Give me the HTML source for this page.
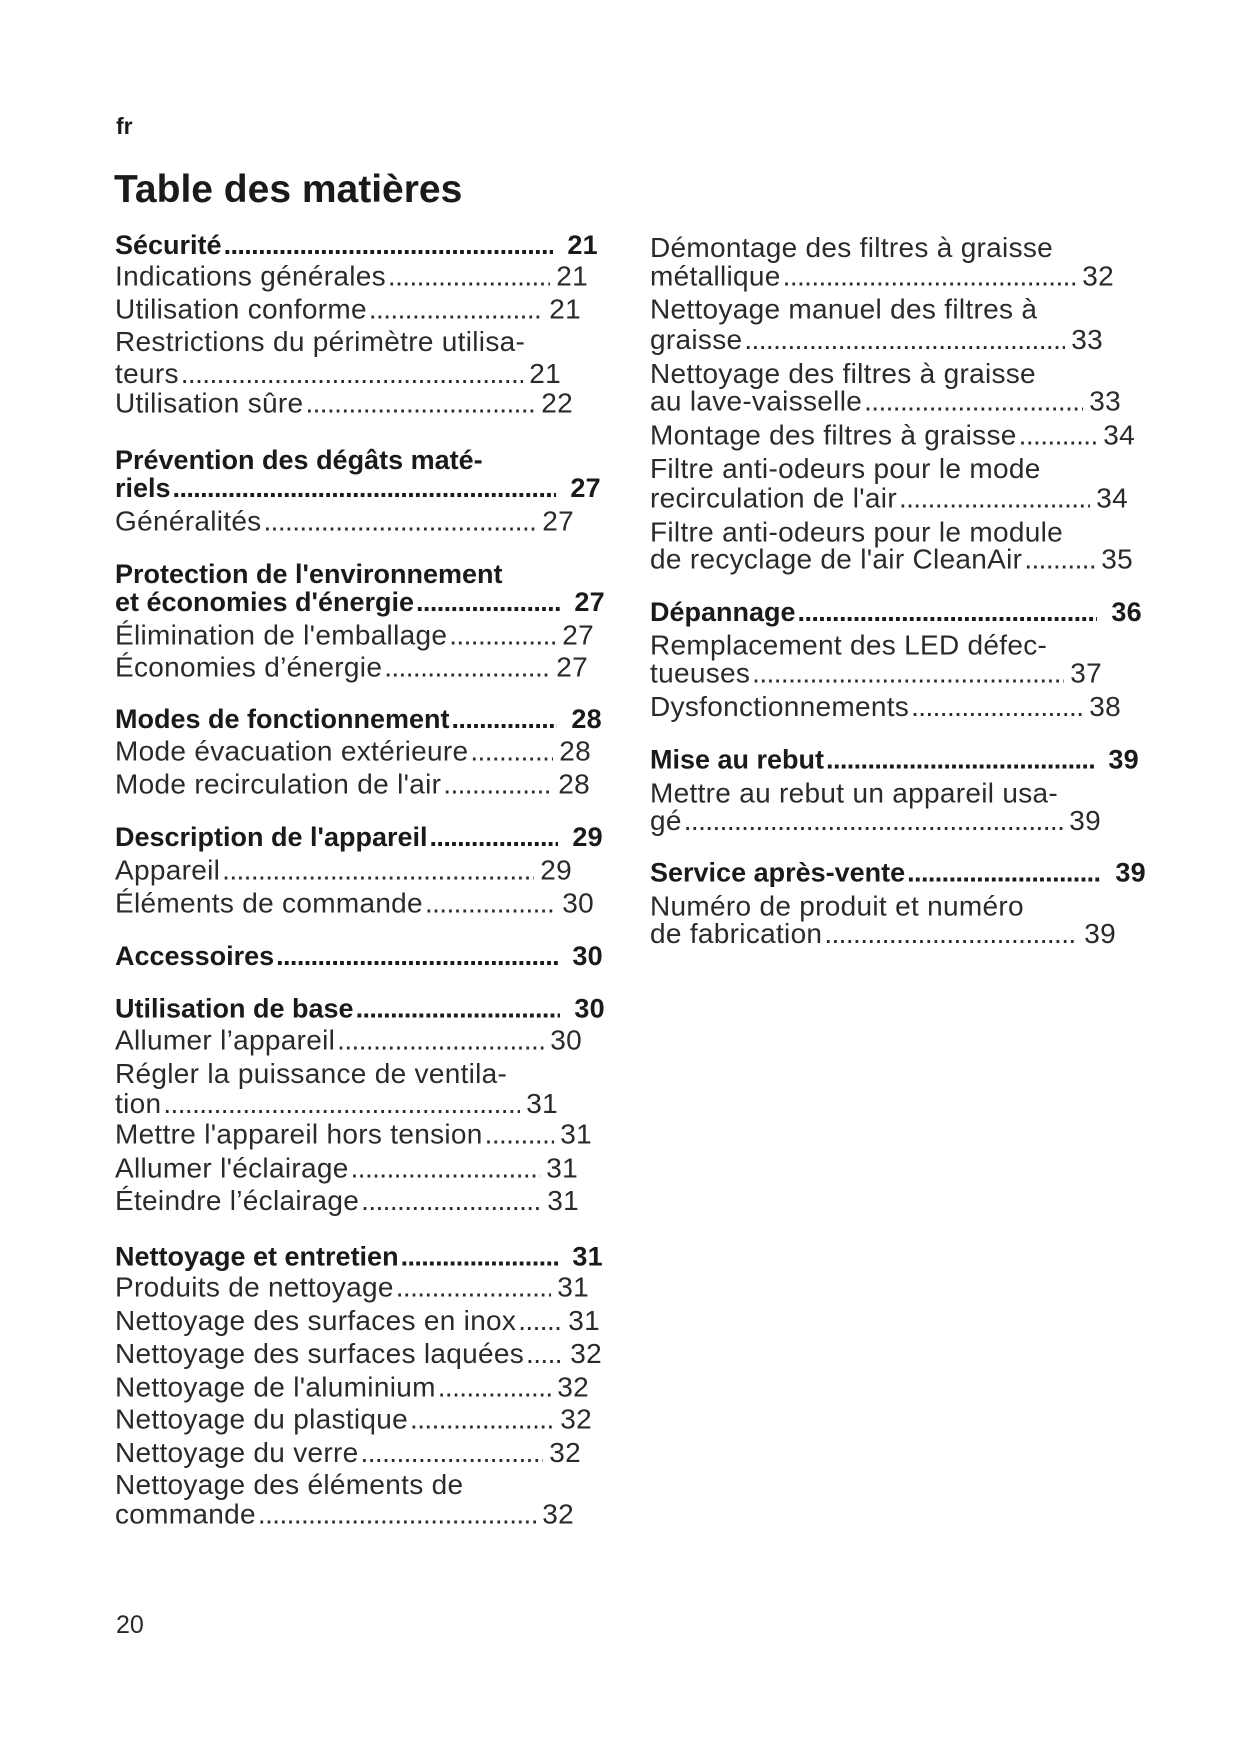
<!DOCTYPE html>
<html><head><meta charset="utf-8"><style>
body{margin:0;background:#fff;}
#p{position:relative;width:1241px;height:1754px;overflow:hidden;font-family:"Liberation Sans",Arial,sans-serif;color:#2a2a2a;}
#c{position:absolute;left:0;top:0;width:1241px;height:1754px;transform-origin:0 230px;transform:translateY(-2px) scaleY(0.992);}
.l{position:absolute;height:34px;line-height:34px;font-size:28px;white-space:nowrap;display:flex;}
.l .t{flex:none;letter-spacing:0.3px;}
.l .d{flex:1;overflow:hidden;letter-spacing:-0.6px;padding-left:2px;}
.l .d::before{content:"..........................................................................................................................";}
.l .n{flex:none;padding-left:6px;letter-spacing:0.3px;}
.b{font-weight:bold;font-size:27px;color:#1a1a1a;}
.b .t{letter-spacing:0;}
.b .n{padding-left:14px;}
.L{left:115px}.R{left:650px}
</style></head><body><div id="p">
<div style="position:absolute;left:116px;top:113px;font-weight:bold;font-size:23px;color:#1a1a1a">fr</div>
<div style="position:absolute;left:114px;top:168px;font-weight:bold;font-size:39px;color:#1a1a1a">Table des matières</div>
<div id="c">
<div class="l L b" style="top:230px;width:483px"><span class="t">Sécurité</span><span class="d"></span><span class="n">21</span></div>
<div class="l L" style="top:262px;width:473px"><span class="t">Indications générales </span><span class="d"></span><span class="n">21</span></div>
<div class="l L" style="top:295px;width:466px"><span class="t">Utilisation conforme</span><span class="d"></span><span class="n">21</span></div>
<div class="l L" style="top:328px"><span class="t">Restrictions du périmètre utilisa-</span></div>
<div class="l L" style="top:360px;width:446px"><span class="t">teurs</span><span class="d"></span><span class="n">21</span></div>
<div class="l L" style="top:390px;width:458px"><span class="t">Utilisation sûre</span><span class="d"></span><span class="n">22</span></div>

<div class="l L b" style="top:447px"><span class="t">Prévention des dégâts maté-</span></div>
<div class="l L b" style="top:475px;width:486px"><span class="t">riels </span><span class="d"></span><span class="n">27</span></div>
<div class="l L" style="top:509px;width:459px"><span class="t">Généralités </span><span class="d"></span><span class="n">27</span></div>

<div class="l L b" style="top:562px"><span class="t">Protection de l'environnement</span></div>
<div class="l L b" style="top:590px;width:490px"><span class="t">et économies d'énergie </span><span class="d"></span><span class="n">27</span></div>
<div class="l L" style="top:624px;width:479px"><span class="t">Élimination de l'emballage </span><span class="d"></span><span class="n">27</span></div>
<div class="l L" style="top:656px;width:473px"><span class="t">Économies d’énergie </span><span class="d"></span><span class="n">27</span></div>

<div class="l L b" style="top:708px;width:487px"><span class="t">Modes de fonctionnement</span><span class="d"></span><span class="n">28</span></div>
<div class="l L" style="top:741px;width:476px"><span class="t">Mode évacuation extérieure</span><span class="d"></span><span class="n">28</span></div>
<div class="l L" style="top:774px;width:475px"><span class="t">Mode recirculation de l'air</span><span class="d"></span><span class="n">28</span></div>

<div class="l L b" style="top:827px;width:488px"><span class="t">Description de l'appareil</span><span class="d"></span><span class="n">29</span></div>
<div class="l L" style="top:861px;width:457px"><span class="t">Appareil </span><span class="d"></span><span class="n">29</span></div>
<div class="l L" style="top:894px;width:479px"><span class="t">Éléments de commande </span><span class="d"></span><span class="n">30</span></div>

<div class="l L b" style="top:947px;width:488px"><span class="t">Accessoires</span><span class="d"></span><span class="n">30</span></div>

<div class="l L b" style="top:1000px;width:490px"><span class="t">Utilisation de base </span><span class="d"></span><span class="n">30</span></div>
<div class="l L" style="top:1032px;width:467px"><span class="t">Allumer l’appareil </span><span class="d"></span><span class="n">30</span></div>
<div class="l L" style="top:1066px"><span class="t">Régler la puissance de ventila-</span></div>
<div class="l L" style="top:1096px;width:443px"><span class="t">tion</span><span class="d"></span><span class="n">31</span></div>
<div class="l L" style="top:1127px;width:477px"><span class="t">Mettre l'appareil hors tension</span><span class="d"></span><span class="n">31</span></div>
<div class="l L" style="top:1161px;width:463px"><span class="t">Allumer l'éclairage</span><span class="d"></span><span class="n">31</span></div>
<div class="l L" style="top:1194px;width:464px"><span class="t">Éteindre l’éclairage</span><span class="d"></span><span class="n">31</span></div>

<div class="l L b" style="top:1250px;width:488px"><span class="t">Nettoyage et entretien </span><span class="d"></span><span class="n">31</span></div>
<div class="l L" style="top:1281px;width:474px"><span class="t">Produits de nettoyage </span><span class="d"></span><span class="n">31</span></div>
<div class="l L" style="top:1315px;width:485px"><span class="t">Nettoyage des surfaces en inox </span><span class="d"></span><span class="n">31</span></div>
<div class="l L" style="top:1348px;width:487px"><span class="t">Nettoyage des surfaces laquées </span><span class="d"></span><span class="n">32</span></div>
<div class="l L" style="top:1382px;width:474px"><span class="t">Nettoyage de l'aluminium</span><span class="d"></span><span class="n">32</span></div>
<div class="l L" style="top:1414px;width:477px"><span class="t">Nettoyage du plastique </span><span class="d"></span><span class="n">32</span></div>
<div class="l L" style="top:1448px;width:466px"><span class="t">Nettoyage du verre</span><span class="d"></span><span class="n">32</span></div>
<div class="l L" style="top:1480px"><span class="t">Nettoyage des éléments de</span></div>
<div class="l L" style="top:1510px;width:459px"><span class="t">commande </span><span class="d"></span><span class="n">32</span></div>

<div class="l R" style="top:233px"><span class="t">Démontage des filtres à graisse</span></div>
<div class="l R" style="top:262px;width:464px"><span class="t">métallique </span><span class="d"></span><span class="n">32</span></div>
<div class="l R" style="top:295px"><span class="t">Nettoyage manuel des filtres à</span></div>
<div class="l R" style="top:326px;width:453px"><span class="t">graisse</span><span class="d"></span><span class="n">33</span></div>
<div class="l R" style="top:360px"><span class="t">Nettoyage des filtres à graisse</span></div>
<div class="l R" style="top:388px;width:471px"><span class="t">au lave-vaisselle </span><span class="d"></span><span class="n">33</span></div>
<div class="l R" style="top:422px;width:485px"><span class="t">Montage des filtres à graisse</span><span class="d"></span><span class="n">34</span></div>
<div class="l R" style="top:456px"><span class="t">Filtre anti-odeurs pour le mode</span></div>
<div class="l R" style="top:486px;width:478px"><span class="t">recirculation de l'air </span><span class="d"></span><span class="n">34</span></div>
<div class="l R" style="top:520px"><span class="t">Filtre anti-odeurs pour le module</span></div>
<div class="l R" style="top:547px;width:483px"><span class="t">de recyclage de l'air CleanAir</span><span class="d"></span><span class="n">35</span></div>

<div class="l R b" style="top:600px;width:492px"><span class="t">Dépannage </span><span class="d"></span><span class="n">36</span></div>
<div class="l R" style="top:634px"><span class="t">Remplacement des LED défec-</span></div>
<div class="l R" style="top:662px;width:452px"><span class="t">tueuses</span><span class="d"></span><span class="n">37</span></div>
<div class="l R" style="top:696px;width:471px"><span class="t">Dysfonctionnements</span><span class="d"></span><span class="n">38</span></div>

<div class="l R b" style="top:749px;width:489px"><span class="t">Mise au rebut</span><span class="d"></span><span class="n">39</span></div>
<div class="l R" style="top:783px"><span class="t">Mettre au rebut un appareil usa-</span></div>
<div class="l R" style="top:811px;width:451px"><span class="t">gé </span><span class="d"></span><span class="n">39</span></div>

<div class="l R b" style="top:863px;width:496px"><span class="t">Service après-vente </span><span class="d"></span><span class="n">39</span></div>
<div class="l R" style="top:897px"><span class="t">Numéro de produit et numéro</span></div>
<div class="l R" style="top:925px;width:466px"><span class="t">de fabrication </span><span class="d"></span><span class="n">39</span></div>
</div>
<div style="position:absolute;left:116px;top:1611px;font-size:25px;color:#2a2a2a">20</div>
</div></body></html>
